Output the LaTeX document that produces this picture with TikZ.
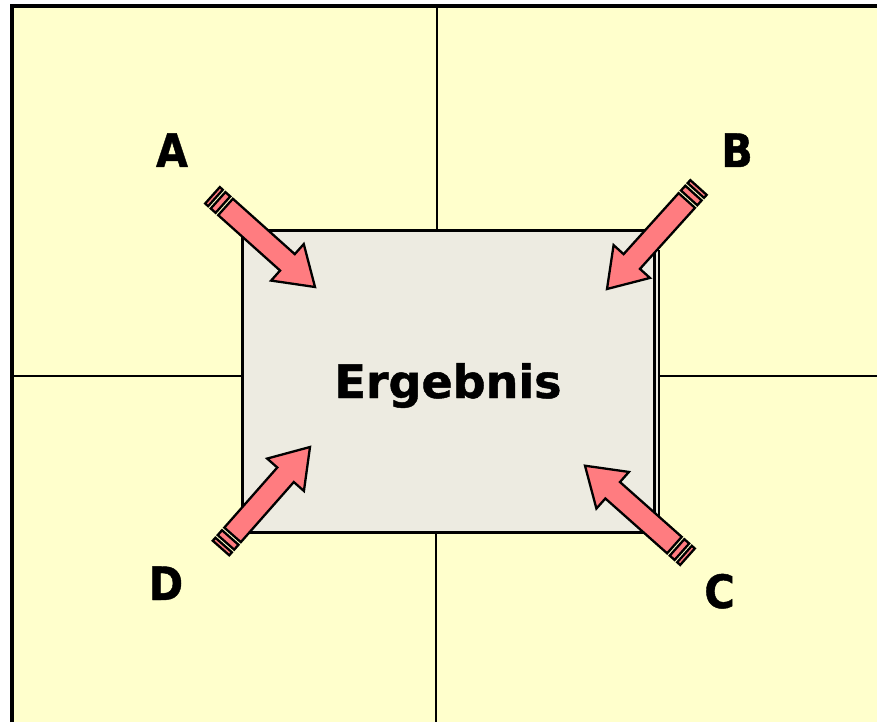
\documentclass[tikz,border=0pt]{standalone}
\usepackage{fontspec}
\newfontfamily\dvs{DejaVu Sans}[BoldFeatures={FakeBold=1.0}]
\definecolor{bgyellow}{HTML}{FFFFCC}
\definecolor{boxgray}{HTML}{EDEBE1}
\definecolor{arrowred}{HTML}{FF7C80}
\tikzset{
  gridline/.style={line width=2pt},
  arrowpart/.style={fill=arrowred,draw=black,line width=2.3pt,line join=miter},
  lbl/.style={font=\dvs\bfseries\fontsize{46}{46}\selectfont,inner sep=0pt,anchor=base},
}
\newcommand\stripedarrow[4]{%
  \pgfmathsetmacro\sadx{#3-#1}%
  \pgfmathsetmacro\sady{#4-#2}%
  \pgfmathsetmacro\saang{atan2(-\sady,\sadx)}%
  \pgfmathsetmacro\salen{veclen(\sadx,\sady)}%
  \pgfmathsetmacro\sahb{\salen-37}%
  \begin{scope}[shift={(#1,#2)},rotate=\saang]
    \draw[arrowpart] (0,-11) rectangle (4,11);
    \draw[arrowpart] (7.5,-11) rectangle (14,11);
    \draw[arrowpart] (17.5,-11) -- (\sahb,-11) -- (\sahb,-24.5) -- (\salen,0)
      -- (\sahb,24.5) -- (\sahb,11) -- (17.5,11) -- cycle;
  \end{scope}}
\begin{document}
\begin{tikzpicture}[x=1pt,y=-1pt]
  \useasboundingbox (0,0) rectangle (877,722);
  \fill[white] (0,0) rectangle (877,722);
  \fill[bgyellow] (12,6) rectangle (877,722);
  \draw[line width=3.2pt] (12,722) -- (12,6) -- (877,6);
  % grid lines
  \coordinate (gt) at (437,6);
  \coordinate (gb) at (436,722);
  \coordinate (gl) at (12,376);
  \coordinate (gr) at (877,376);
  \draw[gridline] (gt) -- (437,229);
  \draw[gridline] (436,531) -- (gb);
  \draw[gridline] (gl) -- (241,376);
  \draw[gridline] (659,376) -- (gr);
  % result box
  \fill[boxgray] (652,250) rectangle (659,518);
  \draw[line width=2.2pt] (659,250) -- (659,518);
  \node[draw,line width=2.5pt,fill=boxgray,minimum width=412pt,minimum height=302pt,
        inner sep=0pt,anchor=north west] (box) at (241,229) {};
  \node[lbl] (erg) at (448,398) {Ergebnis};
  % labels
  \node[lbl] (la) at (172,167) {\scalebox{0.9}[1]{A}};
  \node[lbl] (lb) at (737,167) {\scalebox{0.9}[1]{B}};
  \node[lbl] (lc) at (719.5,608) {\scalebox{0.9}[1]{C}};
  \node[lbl] (ld) at (166,600) {\scalebox{0.9}[1]{D}};
  % arrows
  \stripedarrow{212.5}{195.3}{315}{287}
  \stripedarrow{698.5}{187.5}{607}{289}
  \stripedarrow{221}{548}{310}{447}
  \stripedarrow{687.5}{556.7}{585}{465.7}
\end{tikzpicture}
\end{document}
